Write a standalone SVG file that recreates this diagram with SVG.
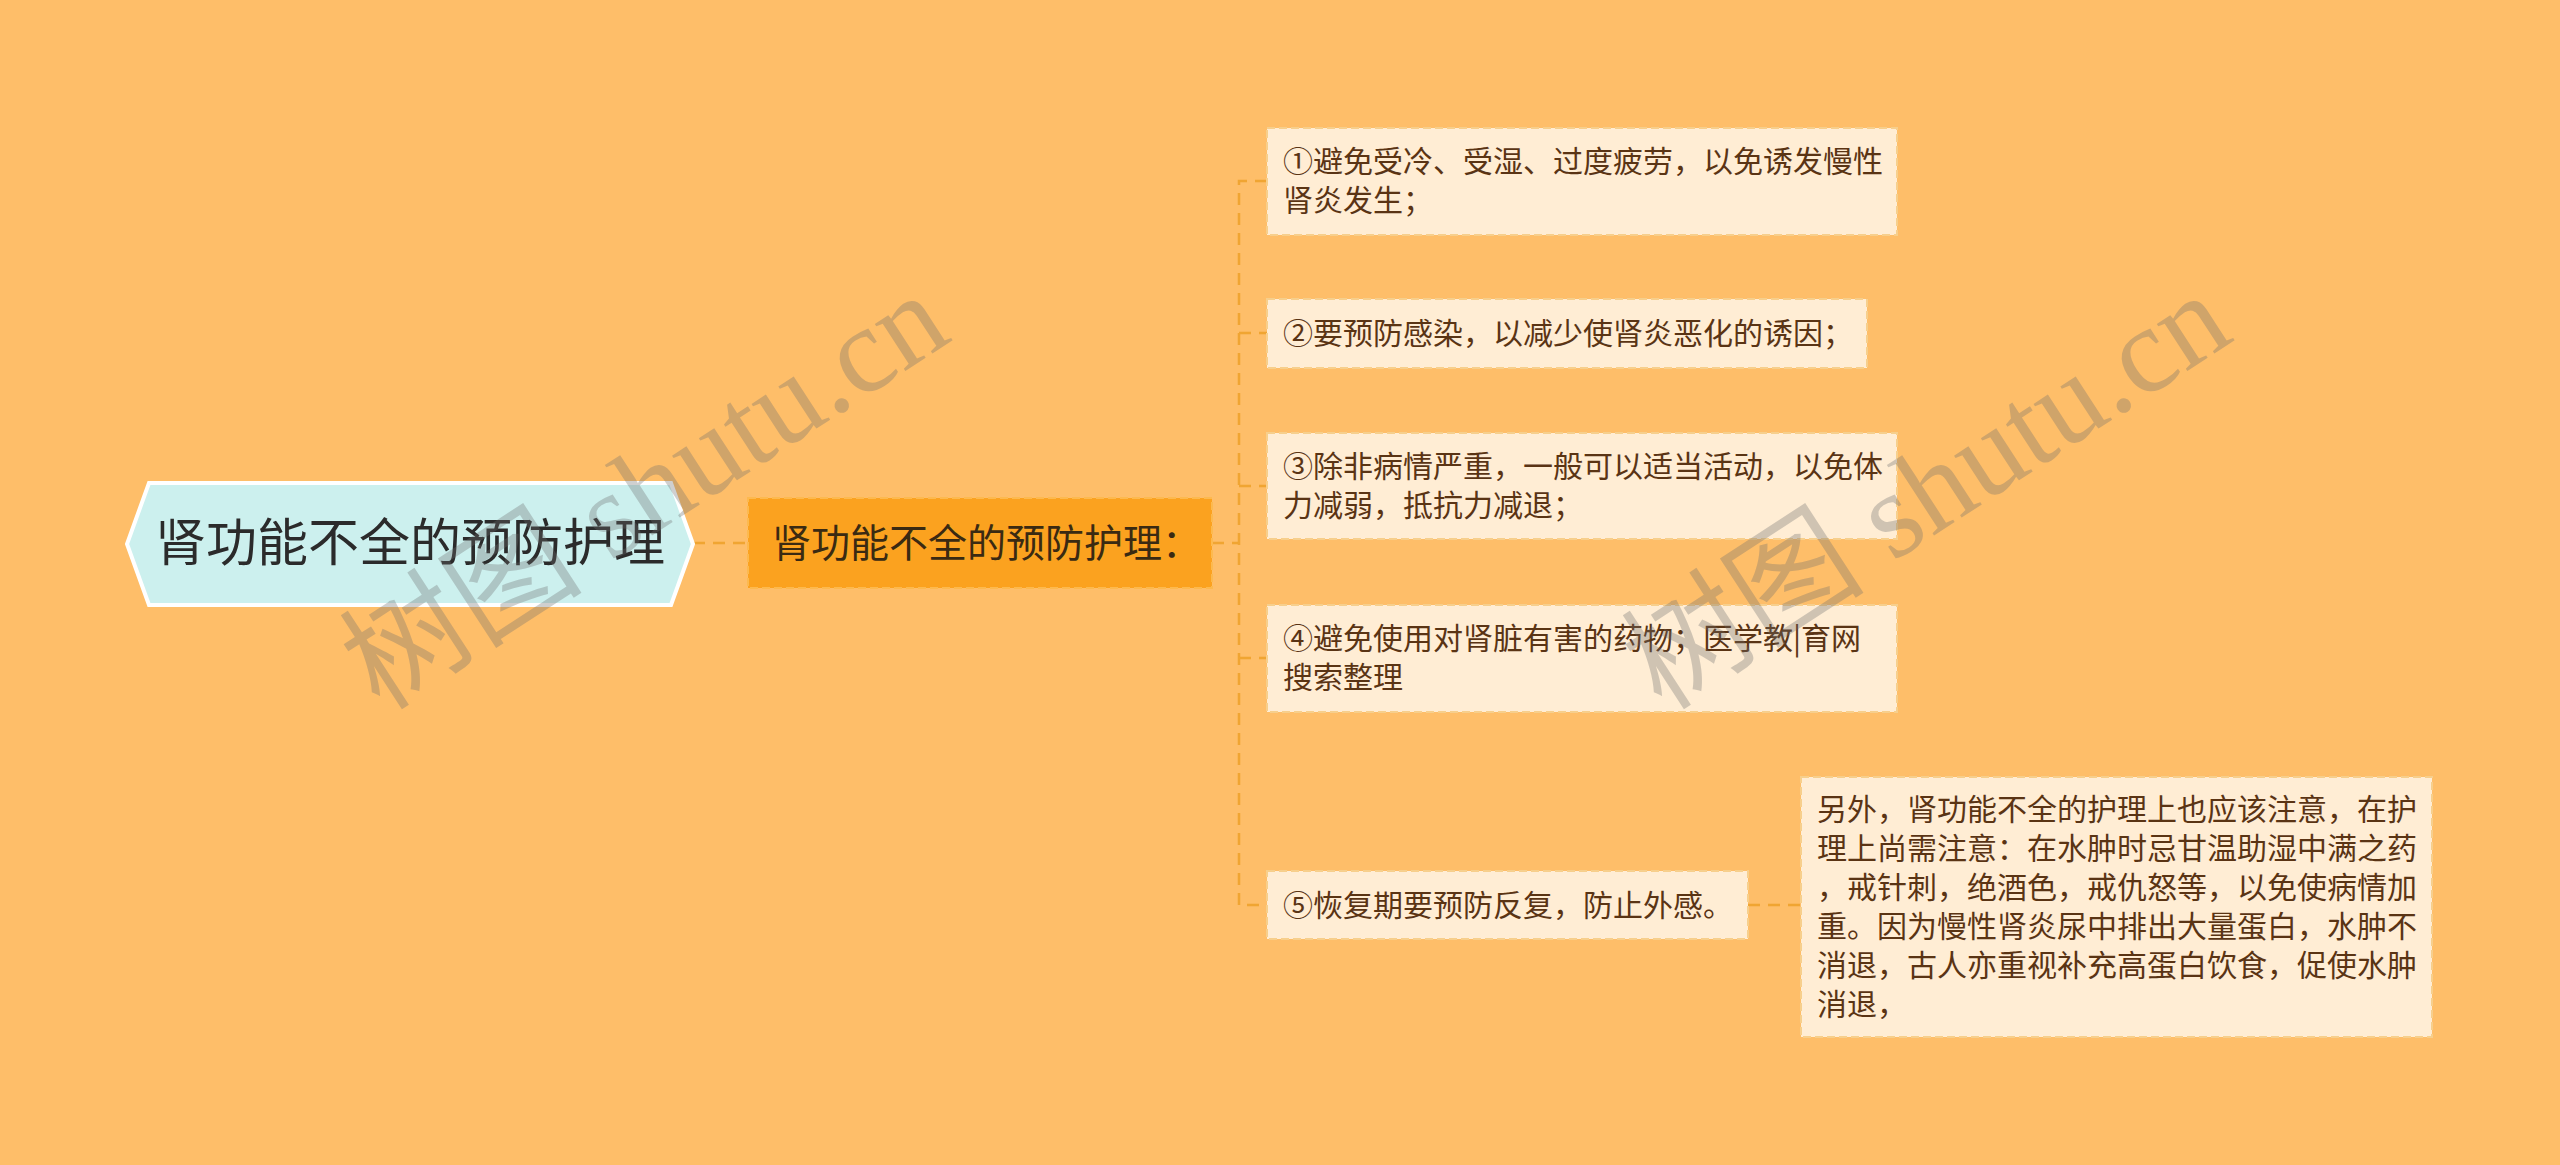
<svg xmlns="http://www.w3.org/2000/svg" width="2560" height="1165" viewBox="0 0 2560 1165">
<style>
.leaf rect{fill:#FFEDD4;stroke:#F7CF8C;stroke-width:2;stroke-dasharray:8 4}
.leaf text{font-family:"Noto Sans CJK SC","Liberation Sans",sans-serif;font-size:30px;fill:#5A3414}
.conn{fill:none;stroke:#F0A532;stroke-width:2.5;stroke-dasharray:12 8}
.wm{font-family:"Liberation Serif","Noto Sans CJK SC",serif;font-size:122px;fill:#6E6E6E;opacity:0.32}
</style>
<rect x="0" y="0" width="2560" height="1165" fill="#FEBE69"/>
<g id="connectors">
<path class="conn" d="M693 543 H748" stroke-width="3.5" stroke-dasharray="30 10"/>
<path class="conn" d="M1212 543 H1239"/>
<path class="conn" d="M1267 181 H1239 V905 H1267"/>
<path class="conn" d="M1239 333 H1267"/>
<path class="conn" d="M1239 486 H1267"/>
<path class="conn" d="M1239 658 H1267"/>
<path class="conn" d="M1748 905 H1801" stroke-width="3.5" stroke-dasharray="20 8"/>
</g>
<g id="root">
<polygon points="149,483 671,483 693,544 671,605 149,605 127,544" fill="#CCF0EE" stroke="#FFFFFF" stroke-width="4"/>
<text x="410" y="561" text-anchor="middle" font-family="Noto Sans CJK SC,Liberation Sans,sans-serif" font-size="51" fill="#2B2B2B">肾功能不全的预防护理</text>
</g>
<g id="child">
<rect x="748" y="498" width="464" height="90" fill="#FBA21F" stroke="#FDB94E" stroke-width="2" stroke-dasharray="8 4"/>
<text x="772" y="557" font-family="Noto Sans CJK SC,Liberation Sans,sans-serif" font-size="39" fill="#3A2A12">肾功能不全的预防护理：</text>
</g>
<g id="leaf1" class="leaf">
<rect x="1267" y="128" width="630" height="107"/>
<text x="1283" y="172">①避免受冷、受湿、过度疲劳，以免诱发慢性</text>
<text x="1283" y="211">肾炎发生；</text>
</g>
<g id="leaf2" class="leaf">
<rect x="1267" y="299" width="600" height="69"/>
<text x="1283" y="344">②要预防感染，以减少使肾炎恶化的诱因；</text>
</g>
<g id="leaf3" class="leaf">
<rect x="1267" y="433" width="630" height="106"/>
<text x="1283" y="477">③除非病情严重，一般可以适当活动，以免体</text>
<text x="1283" y="516">力减弱，抵抗力减退；</text>
</g>
<g id="leaf4" class="leaf">
<rect x="1267" y="605" width="630" height="107"/>
<text x="1283" y="649">④避免使用对肾脏有害的药物；医学教|育网</text>
<text x="1283" y="688">搜索整理</text>
</g>
<g id="leaf5" class="leaf">
<rect x="1267" y="871" width="481" height="68"/>
<text x="1283" y="916">⑤恢复期要预防反复，防止外感。</text>
</g>
<g id="leaf6" class="leaf">
<rect x="1801" y="777" width="631" height="260"/>
<text x="1817" y="820">另外，肾功能不全的护理上也应该注意，在护</text>
<text x="1817" y="859">理上尚需注意：在水肿时忌甘温助湿中满之药</text>
<text x="1817" y="898">，戒针刺，绝酒色，戒仇怒等，以免使病情加</text>
<text x="1817" y="937">重。因为慢性肾炎尿中排出大量蛋白，水肿不</text>
<text x="1817" y="976">消退，古人亦重视补充高蛋白饮食，促使水肿</text>
<text x="1817" y="1015">消退，</text>
</g>
<text class="wm" transform="translate(380,712) rotate(-33)">树图 shutu.cn</text>
<text class="wm" transform="translate(1662,712) rotate(-33)">树图 shutu.cn</text>
</svg>
